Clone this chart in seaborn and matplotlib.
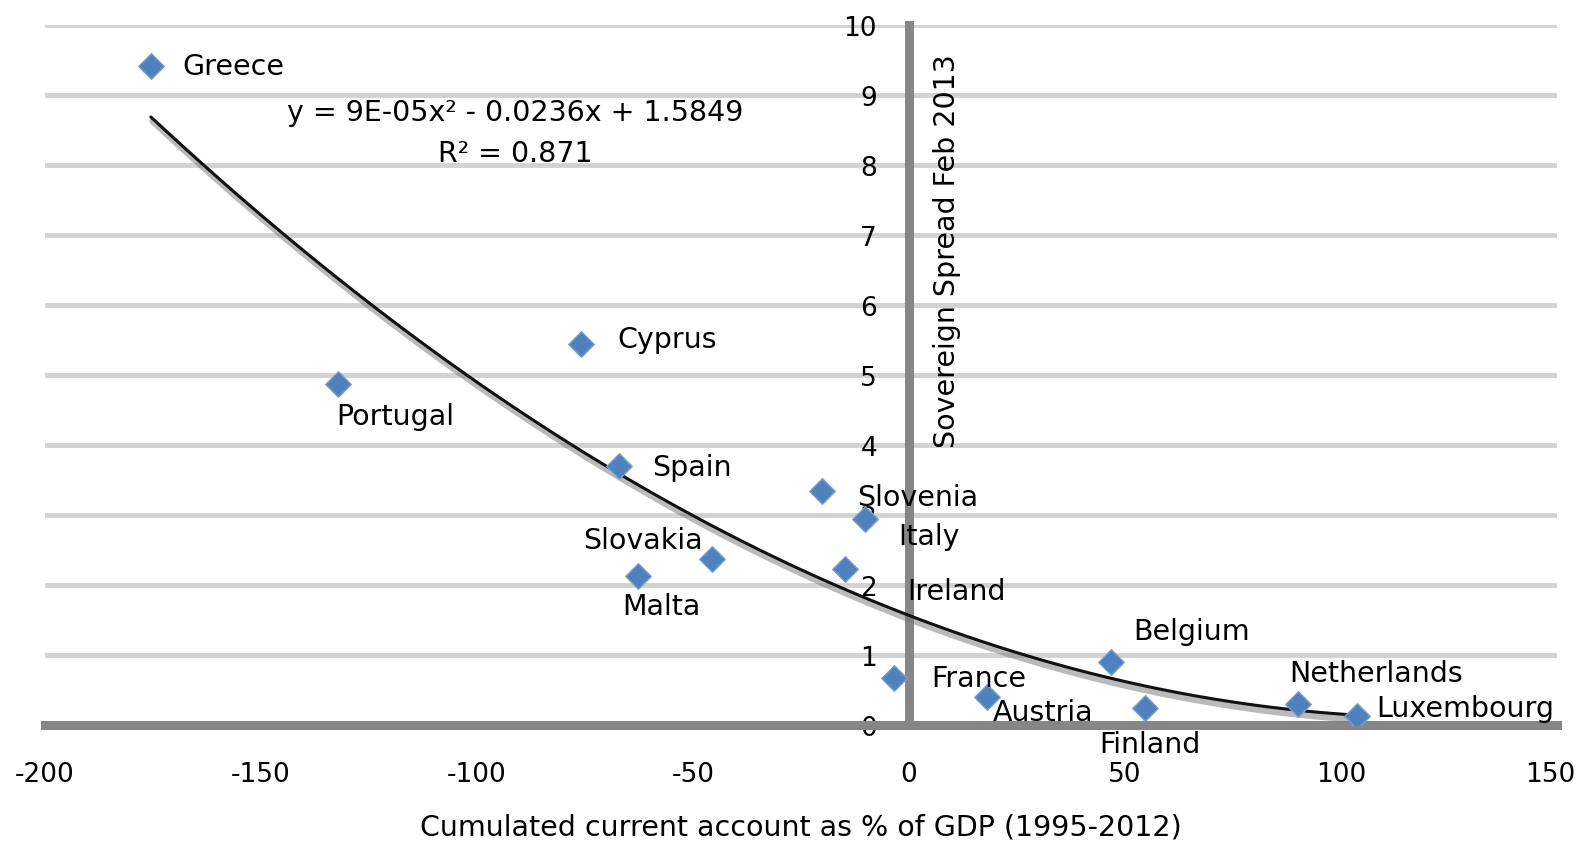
import pandas as pd
import matplotlib.pyplot as plt
import seaborn as sns
from matplotlib import patheffects
from matplotlib.transforms import ScaledTranslation

# 数据：累计经常账户 (% GDP, 1995-2012) vs 2013年2月主权利差
countries = ['Greece', 'Portugal', 'Cyprus', 'Spain', 'Slovakia', 'Malta', 'Slovenia',
             'Italy', 'Ireland', 'France', 'Austria', 'Belgium', 'Finland',
             'Netherlands', 'Luxembourg']
current_account = [-175.5, -132.2, -75.9, -67.1, -45.6, -62.7, -20.1,
                   -10.2, -14.8, -3.5, 18.1, 46.8, 54.6, 90.0, 103.7]
spread = [9.42, 4.87, 5.44, 3.70, 2.37, 2.13, 3.34,
          2.94, 2.23, 0.67, 0.40, 0.90, 0.24, 0.30, 0.13]
x_ticks = [-200, -150, -100, -50, 0, 50, 100, 150]
y_ticks = list(range(0, 11))
equation = 'y = 9E-05x² - 0.0236x + 1.5849'
r_squared = 'R² = 0.871'

df = pd.DataFrame({'country': countries, 'ca': current_account, 'spread': spread})

# 标签偏移 (points) 和对齐方式
label_pos = {
    'Greece': ((23, 0), 'left'), 'Portugal': ((-1, -23), 'left'),
    'Cyprus': ((26, 4), 'left'), 'Spain': ((24, -1), 'left'),
    'Slovakia': ((-7, 14), 'right'), 'Malta': ((17, -22), 'center'),
    'Slovenia': ((25, -4), 'left'), 'Italy': ((24, -12), 'left'),
    'Ireland': ((45, -16), 'left'), 'France': ((27, 0), 'left'),
    'Austria': ((4, -11), 'left'), 'Belgium': ((16, 22), 'left'),
    'Finland': ((4, -26), 'center'), 'Netherlands': ((-6, 22), 'left'),
    'Luxembourg': ((14, 6), 'left'),
}

sns.set_style('white')
plt.rcParams['font.family'] = ['DejaVu Sans']
plt.rcParams['axes.unicode_minus'] = False  # 用普通连字符
plt.rcParams['text.color'] = 'black'
plt.rcParams['xtick.color'] = 'black'
plt.rcParams['ytick.color'] = 'black'
plt.rcParams['axes.labelcolor'] = 'black'
fs = 20.5

fig = plt.figure(figsize=(15.79, 8.45), dpi=100)
ax = fig.add_axes([45 / 1579, 1 - 726 / 845, 1512 / 1579, 700 / 845])

# 趋势线（二次拟合）
sns.regplot(data=df, x='ca', y='spread', order=2, ci=None, scatter=False, truncate=True,
            ax=ax, line_kws=dict(color='#111111', lw=2.2, zorder=4,
                                 path_effects=[patheffects.SimpleLineShadow(offset=(1.5, -3), shadow_color='#777777', alpha=0.5, linewidth=5),
                                               patheffects.Normal()]))

sns.scatterplot(data=df, x='ca', y='spread', marker='D', s=170, color='#4F81BD',
                edgecolor='#7a9fd0', linewidth=1, ax=ax, zorder=5, legend=False)

for _, row in df.iterrows():
    off, ha = label_pos[row['country']]
    ax.annotate(row['country'], (row['ca'], row['spread']), xytext=off,
                textcoords='offset points', ha=ha, va='center', fontsize=fs, zorder=6)

ax.text(-91.2, 8.76, equation, ha='center', va='center', fontsize=fs)
ax.text(-91.2, 8.17, r_squared, ha='center', va='center', fontsize=fs)
ax.text(8.8, 6.79, 'Sovereign Spread Feb 2013', rotation=90, ha='center', va='center', fontsize=fs)

ax.set_xlim(-200, 150)
ax.set_ylim(0, 10)
ax.set_xticks(x_ticks)
ax.set_yticks(y_ticks)
ax.grid(axis='y', color='#d2d2d2', lw=3.5)
ax.grid(axis='x', visible=False)
ax.set_axisbelow(True)

for s in ['top', 'right']:
    ax.spines[s].set_visible(False)
ax.spines['left'].set_position(('data', 0))
for s in ['left', 'bottom']:
    ax.spines[s].set_color('#868686')
    ax.spines[s].set_linewidth(6.5)
    ax.spines[s].set_zorder(3)

ax.tick_params(axis='x', length=7, width=2, color='#c8c8c8', pad=19, labelsize=19)
ax.tick_params(axis='y', length=7, width=2, color='#dcdcdc', pad=16, labelsize=19)

# 最右侧刻度标签稍向左移，避免被裁切
last = ax.get_xticklabels()[-1]
last.set_transform(last.get_transform() + ScaledTranslation(-7 / 100, 0, fig.dpi_scale_trans))

ax.set_xlabel('Cumulated current account as % of GDP (1995-2012)', fontsize=fs, labelpad=18)
ax.set_ylabel('')

plt.savefig('out.png', dpi=100)
